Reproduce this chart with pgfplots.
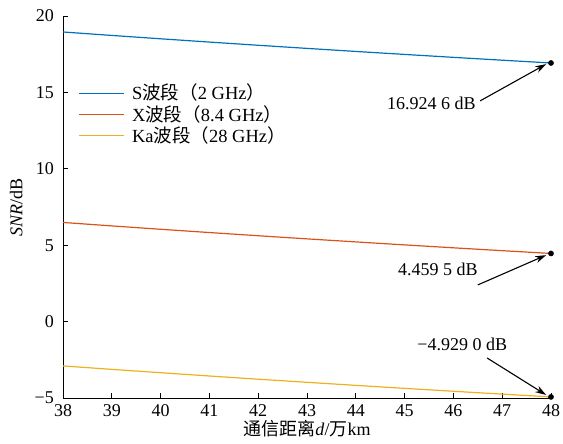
\documentclass[border=0pt]{standalone}
\usepackage{pgfplots}
\pgfplotsset{compat=1.18}
\usetikzlibrary{arrows.meta}
\usepackage{fontspec}
\setmainfont{Liberation Serif}
\newfontfamily\cjk{Noto Sans CJK SC}
\definecolor{cS}{RGB}{0,114,189}
\definecolor{cX}{RGB}{217,83,25}
\definecolor{cKa}{RGB}{237,177,32}
\begin{document}
\fontsize{18}{21}\selectfont
\begin{tikzpicture}
\begin{axis}[
  scale only axis, width=488pt, height=382pt,
  xmin=38, xmax=48, ymin=-5, ymax=20,
  axis lines*=left,
  axis line style={line width=0.9pt},
  tick align=inside, major tick length=5pt,
  tick style={line width=0.9pt, black},
  xtick={38,...,48},
  ytick={-5,0,5,10,15,20},
  yticklabels={−5,0,5,10,15,20},
  /pgf/number format/assume math mode=true,
  ticklabel style={font=\fontsize{18}{21}\selectfont},
  xticklabel style={yshift=0pt},
  yticklabel style={xshift=-3pt},
  xlabel={{\cjk 通信距离}\textit{d}/{\cjk 万}km},
  ylabel={\textit{SNR}/dB},
  label style={font=\fontsize{18}{21}\selectfont},
  xlabel style={yshift=8pt},
  ylabel style={yshift=0pt},
  clip=false,
  legend style={draw=none, fill=none, at={(0.03,0.83)}, anchor=north west,
    font=\fontsize{18.5}{21}\selectfont, row sep=-1.5pt, inner sep=1pt},
  legend cell align=left,
  legend image code/.code={\draw[#1] (0pt,0pt) -- (45pt,0pt); \path (50pt,0pt);},
]
\addplot[cS, line width=1.2pt] coordinates {
(38,18.9538) (39,18.7281) (40,18.5082) (41,18.2939) (42,18.0844) (43,17.8801)
(44,17.6804) (45,17.4852) (46,17.2942) (47,17.1075) (48,16.9246)};
\addlegendentry{S{\cjk 波段（}2 GHz{\cjk ）}}
\addplot[cX, line width=1.2pt] coordinates {
(38,6.4887) (39,6.2630) (40,6.0431) (41,5.8288) (42,5.6193) (43,5.4150)
(44,5.2153) (45,5.0201) (46,4.8291) (47,4.6424) (48,4.4595)};
\addlegendentry{X{\cjk 波段（}8.4 GHz{\cjk ）}}
\addplot[cKa, line width=1.2pt] coordinates {
(38,-2.8998) (39,-3.1255) (40,-3.3454) (41,-3.5597) (42,-3.7692) (43,-3.9735)
(44,-4.1732) (45,-4.3684) (46,-4.5594) (47,-4.7461) (48,-4.9290)};
\addlegendentry{Ka{\cjk 波段（}28 GHz{\cjk ）}}
\addplot[only marks, mark=*, mark size=2.6pt, black, forget plot] coordinates {
(48,16.9246) (48,4.4595) (48,-4.9290)};
\draw[-{Stealth[length=11pt,width=7pt]}, line width=1.1pt] (axis cs:46.55,14.45) -- (axis cs:47.9,16.85);
\node at (axis cs:45.55,14.3) {16.924 6 dB};
\draw[-{Stealth[length=11pt,width=7pt]}, line width=1.1pt] (axis cs:46.5,2.4) -- (axis cs:47.9,4.35);
\node at (axis cs:45.68,3.4) {4.459 5 dB};
\draw[-{Stealth[length=11pt,width=7pt]}, line width=1.1pt] (axis cs:46.69,-2.38) -- (axis cs:47.9,-4.8);
\node at (axis cs:46.18,-1.5) {−4.929 0 dB};
\coordinate (bl) at (rel axis cs:-0.1291,-0.1178);
\coordinate (tr) at (rel axis cs:1.0246,1.0419);
\end{axis}
\pgfresetboundingbox
\path[use as bounding box] (bl) rectangle (tr);
\end{tikzpicture}
\end{document}
